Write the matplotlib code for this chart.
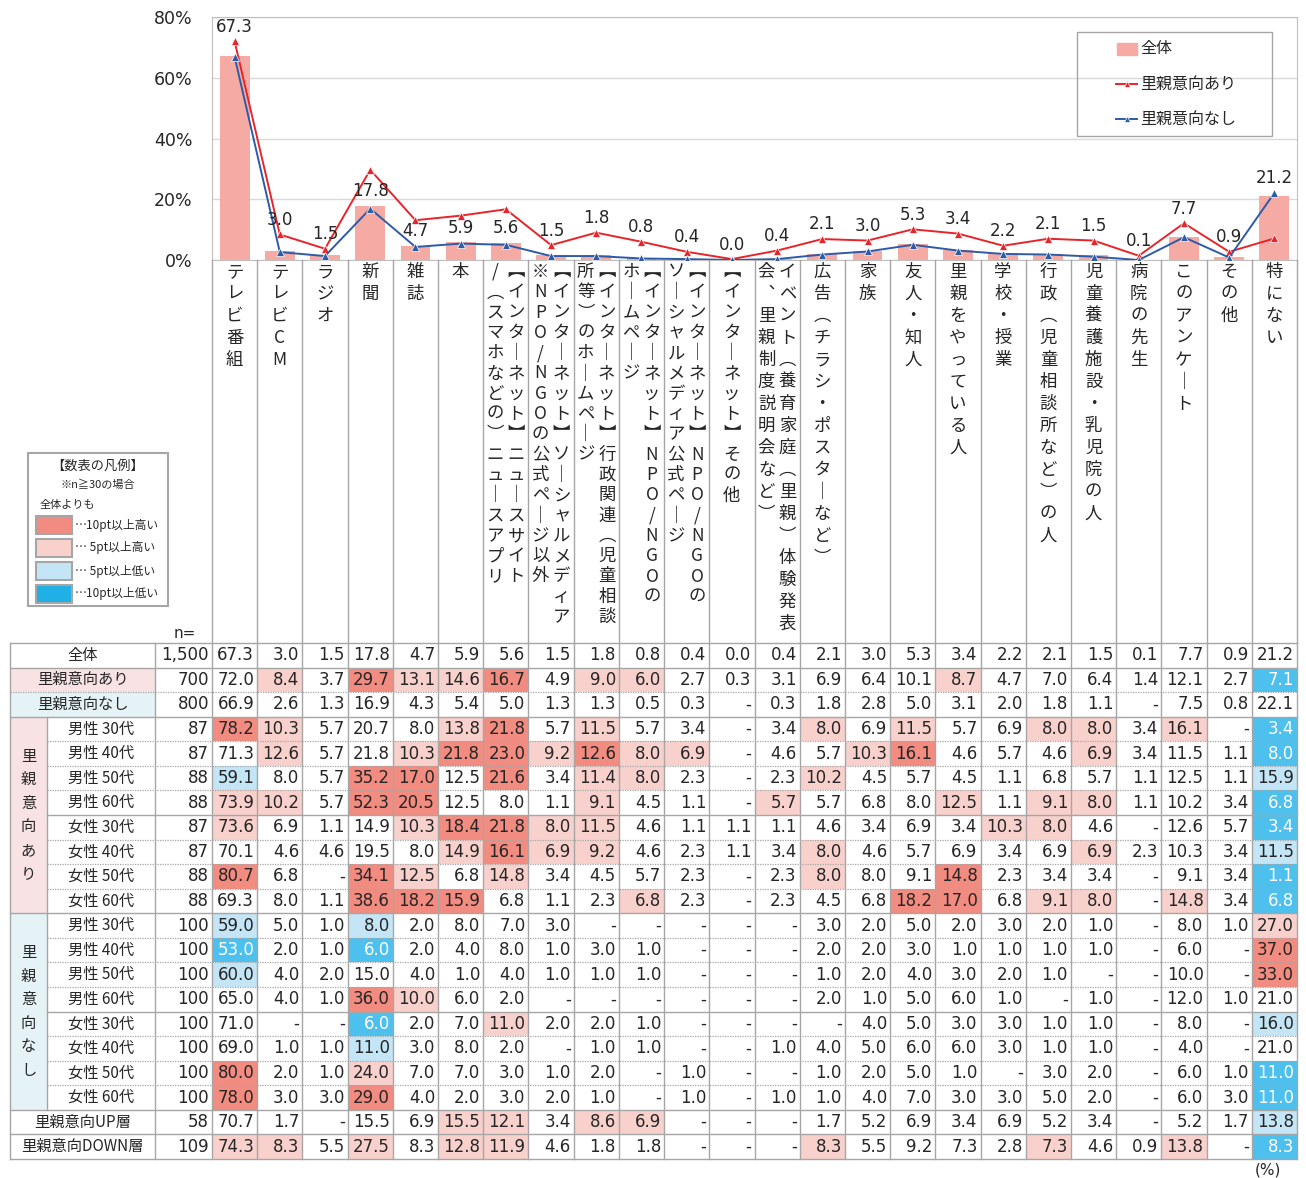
import numpy as np
import matplotlib
matplotlib.use('Agg')
import matplotlib.pyplot as plt
from matplotlib.patches import Rectangle
from matplotlib.lines import Line2D

plt.rcParams['font.family'] = ['DejaVu Sans', 'Noto Sans CJK JP']
JP = ['Noto Sans CJK JP', 'DejaVu Sans']

# ---- data ----
categories = [
    'テレビ番組', 'テレビCM', 'ラジオ', '新聞', '雑誌', '本',
    '【インターネット】ニュースサイト\n/（スマホなどの）ニュースアプリ',
    '【インターネット】ソーシャルメディア\n※NPO/NGOの公式ページ以外',
    '【インターネット】行政関連（児童相談\n所等）のホームページ',
    '【インターネット】NPO/NGOの\nホームページ',
    '【インターネット】NPO/NGOの\nソーシャルメディア公式ページ',
    '【インターネット】その他',
    'イベント（養育家庭（里親）体験発表\n会、里親制度説明会など）',
    '広告（チラシ・ポスターなど）', '家族', '友人・知人', '里親をやっている人',
    '学校・授業', '行政（児童相談所など）の人', '児童養護施設・乳児院の人',
    '病院の先生', 'このアンケート', 'その他', '特にない',
]

top_labels = ['全体', '里親意向あり', '里親意向なし']
top_n = ['1,500', '700', '800']
total = "67.3 3.0 1.5 17.8 4.7 5.9 5.6 1.5 1.8 0.8 0.4 0.0 0.4 2.1 3.0 5.3 3.4 2.2 2.1 1.5 0.1 7.7 0.9 21.2"
ari = "72.0 8.4 3.7 29.7 13.1 14.6 16.7 4.9 9.0 6.0 2.7 0.3 3.1 6.9 6.4 10.1 8.7 4.7 7.0 6.4 1.4 12.1 2.7 7.1"
nashi = "66.9 2.6 1.3 16.9 4.3 5.4 5.0 1.3 1.3 0.5 0.3 - 0.3 1.8 2.8 5.0 3.1 2.0 1.8 1.1 - 7.5 0.8 22.1"

group_labels = ['男性 30代', '男性 40代', '男性 50代', '男性 60代',
                '女性 30代', '女性 40代', '女性 50代', '女性 60代']
ari_n = ['87', '87', '88', '88', '87', '87', '88', '88']
ari_group = [
    "78.2 10.3 5.7 20.7 8.0 13.8 21.8 5.7 11.5 5.7 3.4 - 3.4 8.0 6.9 11.5 5.7 6.9 8.0 8.0 3.4 16.1 - 3.4",
    "71.3 12.6 5.7 21.8 10.3 21.8 23.0 9.2 12.6 8.0 6.9 - 4.6 5.7 10.3 16.1 4.6 5.7 4.6 6.9 3.4 11.5 1.1 8.0",
    "59.1 8.0 5.7 35.2 17.0 12.5 21.6 3.4 11.4 8.0 2.3 - 2.3 10.2 4.5 5.7 4.5 1.1 6.8 5.7 1.1 12.5 1.1 15.9",
    "73.9 10.2 5.7 52.3 20.5 12.5 8.0 1.1 9.1 4.5 1.1 - 5.7 5.7 6.8 8.0 12.5 1.1 9.1 8.0 1.1 10.2 3.4 6.8",
    "73.6 6.9 1.1 14.9 10.3 18.4 21.8 8.0 11.5 4.6 1.1 1.1 1.1 4.6 3.4 6.9 3.4 10.3 8.0 4.6 - 12.6 5.7 3.4",
    "70.1 4.6 4.6 19.5 8.0 14.9 16.1 6.9 9.2 4.6 2.3 1.1 3.4 8.0 4.6 5.7 6.9 3.4 6.9 6.9 2.3 10.3 3.4 11.5",
    "80.7 6.8 - 34.1 12.5 6.8 14.8 3.4 4.5 5.7 2.3 - 2.3 8.0 8.0 9.1 14.8 2.3 3.4 3.4 - 9.1 3.4 1.1",
    "69.3 8.0 1.1 38.6 18.2 15.9 6.8 1.1 2.3 6.8 2.3 - 2.3 4.5 6.8 18.2 17.0 6.8 9.1 8.0 - 14.8 3.4 6.8",
]
nashi_n = ['100'] * 8
nashi_group = [
    "59.0 5.0 1.0 8.0 2.0 8.0 7.0 3.0 - - - - - 3.0 2.0 5.0 2.0 3.0 2.0 1.0 - 8.0 1.0 27.0",
    "53.0 2.0 1.0 6.0 2.0 4.0 8.0 1.0 3.0 1.0 - - - 2.0 2.0 3.0 1.0 1.0 1.0 1.0 - 6.0 - 37.0",
    "60.0 4.0 2.0 15.0 4.0 1.0 4.0 1.0 1.0 1.0 - - - 1.0 2.0 4.0 3.0 2.0 1.0 - - 10.0 - 33.0",
    "65.0 4.0 1.0 36.0 10.0 6.0 2.0 - - - - - - 2.0 1.0 5.0 6.0 1.0 - 1.0 - 12.0 1.0 21.0",
    "71.0 - - 6.0 2.0 7.0 11.0 2.0 2.0 1.0 - - - - 4.0 5.0 3.0 3.0 1.0 1.0 - 8.0 - 16.0",
    "69.0 1.0 1.0 11.0 3.0 8.0 2.0 - 1.0 1.0 - - 1.0 4.0 5.0 6.0 6.0 3.0 1.0 1.0 - 4.0 - 21.0",
    "80.0 2.0 1.0 24.0 7.0 7.0 3.0 1.0 2.0 - 1.0 - - 1.0 2.0 5.0 1.0 - 3.0 2.0 - 6.0 1.0 11.0",
    "78.0 3.0 3.0 29.0 4.0 2.0 3.0 2.0 1.0 - 1.0 - 1.0 1.0 4.0 7.0 3.0 3.0 5.0 2.0 - 6.0 3.0 11.0",
]
bottom_labels = ['里親意向UP層', '里親意向DOWN層']
bottom_n = ['58', '109']
up = "70.7 1.7 - 15.5 6.9 15.5 12.1 3.4 8.6 6.9 - - - 1.7 5.2 6.9 3.4 6.9 5.2 3.4 - 5.2 1.7 13.8"
down = "74.3 8.3 5.5 27.5 8.3 12.8 11.9 4.6 1.8 1.8 - - - 8.3 5.5 9.2 7.3 2.8 7.3 4.6 0.9 13.8 - 8.3"

# cells that the source leaves unshaded although the rule would shade them
unshaded = [(5, 5), (6, 5)]


def parse(s):
    return [None if t == '-' else float(t) for t in s.split()]


rows = [parse(total), parse(ari), parse(nashi)] + [parse(s) for s in ari_group] \
    + [parse(s) for s in nashi_group] + [parse(up), parse(down)]
labels = top_labels + group_labels + group_labels + bottom_labels
ns = top_n + ari_n + nashi_n + bottom_n

# ---- style ----
BAR = '#F5ABA3'
RED = '#E8242B'
BLUE = '#2D5BA8'
DARK = '#F28B80'
PINK = '#F9D1CC'
LBLUE = '#C3E5F5'
BBLUE = '#4EC0EE'
GRID = '#A6A6A6'
TXT = '#262626'

W, H = 1306, 1178
fig = plt.figure(figsize=(W / 100, H / 100), dpi=100)

X0, X1 = 212, 1297
colw = (X1 - X0) / 24
CH_TOP, CH_BOT = 17, 260

# ---- chart ----
ax = fig.add_axes([X0 / W, 1 - CH_BOT / H, (X1 - X0) / W, (CH_BOT - CH_TOP) / H])
x = np.arange(24)
tot = np.array([v or 0 for v in rows[0]])
red = np.array([v or 0 for v in rows[1]])
blue = np.array([v or 0 for v in rows[2]])
ax.bar(x, tot, width=0.66, color=BAR, zorder=2)
ax.plot(x, red, color=RED, lw=1.4, marker='^', ms=6, mec='white', mew=0.5, zorder=3)
ax.plot(x, blue, color=BLUE, lw=1.4, marker='^', ms=6, mec='white', mew=0.5, zorder=4)
ax.set_xlim(-0.5, 23.5)
ax.set_ylim(0, 80)
ax.set_yticks([0, 20, 40, 60, 80])
ax.set_yticklabels(['0%', '20%', '40%', '60%', '80%'])
ax.tick_params(axis='y', length=0, pad=14, labelsize=12.5, labelcolor=TXT)
ax.set_xticks([])
ax.grid(axis='y', color='#D9D9D9', lw=1)
ax.set_axisbelow(True)
for sp in ax.spines.values():
    sp.set_color('#BFBFBF')
for i in range(24):
    top = max(tot[i], red[i], blue[i])
    yy = tot[i] if top - tot[i] > 8 else top
    ax.annotate(f'{tot[i]:.1f}', (i, yy), xytext=(0, 4), textcoords='offset points',
                ha='center', va='bottom', fontsize=12, color=TXT, zorder=5)

# ---- overlay in pixel units ----
ov = fig.add_axes([0, 0, 1, 1])
ov.set_xlim(0, W)
ov.set_ylim(H, 0)
ov.axis('off')

# chart legend
ov.add_patch(Rectangle((1077, 32), 195, 104, fill=False, ec='#A6A6A6', lw=1))
ov.add_patch(Rectangle((1117, 43), 20, 12, color=BAR))
ov.text(1140, 49, '全体', fontsize=11.5, va='center', family=JP, color=TXT)
for yy, c, t in [(84, RED, '里親意向あり'), (119, BLUE, '里親意向なし')]:
    ov.add_line(Line2D([1116, 1137], [yy, yy], color=c, lw=1.4))
    ov.plot([1126.5], [yy], marker='^', color=c, ms=5, mec='white', mew=0.5)
    ov.text(1140, yy, t, fontsize=11.5, va='center', family=JP, color=TXT)

# category headers (vertical writing)
VERT = {'【': '︻', '】': '︼', '（': '︵', '）': '︶', 'ー': '｜', '、': '︑'}
for k in range(25):
    ov.add_line(Line2D([X0 + k * colw] * 2, [CH_BOT, 643], color=GRID, lw=1))
for i, cat in enumerate(categories):
    parts = cat.split('\n')
    cx = X0 + (i + 0.5) * colw
    step = 20.3 if '【' in cat else 22
    offs = [0] if len(parts) == 1 else [10.5, -10.5]
    for part, dx in zip(parts, offs):
        for j, ch in enumerate(part):
            ov.text(cx + dx, 272 + j * step, VERT.get(ch, ch), fontsize=12.5, family=JP,
                    ha='center', va='center', color=TXT)
ov.text(196, 633, 'n=', fontsize=11, ha='right', va='center', color=TXT)

# table legend box
ov.add_patch(Rectangle((28, 453), 140, 153, fill=False, ec='#A6A6A6', lw=1.5))
ov.text(98, 466, '【数表の凡例】', fontsize=9.5, ha='center', va='center', family=JP, color=TXT)
ov.text(98, 485, '※n≧30の場合', fontsize=8, ha='center', va='center', family=JP, color=TXT)
ov.text(40, 505, '全体よりも', fontsize=8, ha='left', va='center', family=JP, color=TXT)
for j, (c, t) in enumerate([(DARK, '…10pt以上高い'), (PINK, '… 5pt以上高い'),
                            (LBLUE, '… 5pt以上低い'), ('#1FB0E6', '…10pt以上低い')]):
    yy = 516 + j * 23
    ov.add_patch(Rectangle((36, yy), 36, 18, fc=c, ec='#A6A6A6', lw=1.5))
    ov.text(75, yy + 9, t, fontsize=8.5, ha='left', va='center', family=JP, color=TXT)

# ---- table ----
T0 = 643
rowh = (1159 - T0) / 21
XL, XG, XN = 10, 47, 155
base = rows[0]


def shade(r, c, v):
    if r == 0 or (r, c) in unshaded:
        return None
    d = (v or 0) - (base[c] or 0)
    if d >= 9.95:
        return DARK
    if d > 5.001:
        return PINK
    if d <= -9.95:
        return BBLUE
    if d <= -4.999:
        return LBLUE
    return None


for r, vals in enumerate(rows):
    yt = T0 + r * rowh
    yc = yt + rowh / 2
    grouped = 3 <= r <= 18
    if grouped:
        ov.text((XG + XN) / 2, yc, labels[r], fontsize=11, ha='center', va='center',
                family=JP, color=TXT)
    else:
        bg = {1: '#F8E2E4', 2: '#E5F3F6'}.get(r)
        if bg:
            ov.add_patch(Rectangle((XL, yt), XN - XL, rowh, color=bg, lw=0))
        ov.text((XL + XN) / 2, yc, labels[r], fontsize=11, ha='center', va='center',
                family=JP, color=TXT)
    ov.text(X0 - 3, yc, ns[r], fontsize=12, ha='right', va='center', color=TXT)
    for c, v in enumerate(vals):
        fc = shade(r, c, v)
        if fc:
            ov.add_patch(Rectangle((X0 + c * colw, yt), colw, rowh, color=fc, lw=0))
        s = '-' if v is None else f'{v:.1f}'
        ov.text(X0 + (c + 1) * colw - 3, yc, s, fontsize=12, ha='right', va='center',
                color='white' if fc == BBLUE else TXT)

# group side labels
for g, (txt, bg) in enumerate([('里親意向あり', '#F8E2E4'), ('里親意向なし', '#E5F3F6')]):
    yt = T0 + (3 + 8 * g) * rowh
    ov.add_patch(Rectangle((XL, yt), XG - XL, 8 * rowh, color=bg, lw=0))
    yc = yt + 4 * rowh
    for j, ch in enumerate(txt):
        ov.text((XL + XG) / 2, yc + (j - 2.5) * 23.5, ch, fontsize=11, ha='center',
                va='center', family=JP, color=TXT)

# horizontal rules
solid = {0, 1, 3, 7, 11, 15, 19, 20, 21}
for b in range(22):
    yy = T0 + b * rowh
    if b in solid:
        x_start = XG if b in (7, 15) else XL
        ov.add_line(Line2D([x_start, X1], [yy, yy], color=GRID, lw=1))
    else:
        x_start = XG if 4 <= b <= 18 else XL
        ov.add_line(Line2D([x_start, X1], [yy, yy], color=GRID, lw=0.9, ls=(0, (1, 1))))

# vertical rules
ybot = T0 + 21 * rowh
for xx in [XL, XN] + [X0 + k * colw for k in range(25)]:
    ov.add_line(Line2D([xx, xx], [T0, ybot], color=GRID, lw=1))
ov.add_line(Line2D([XG, XG], [T0 + 3 * rowh, T0 + 19 * rowh], color=GRID, lw=1))

ov.text(1268, 1170, '(%)', fontsize=11, ha='center', va='center', color=TXT)

plt.savefig('out.png', dpi=100)
